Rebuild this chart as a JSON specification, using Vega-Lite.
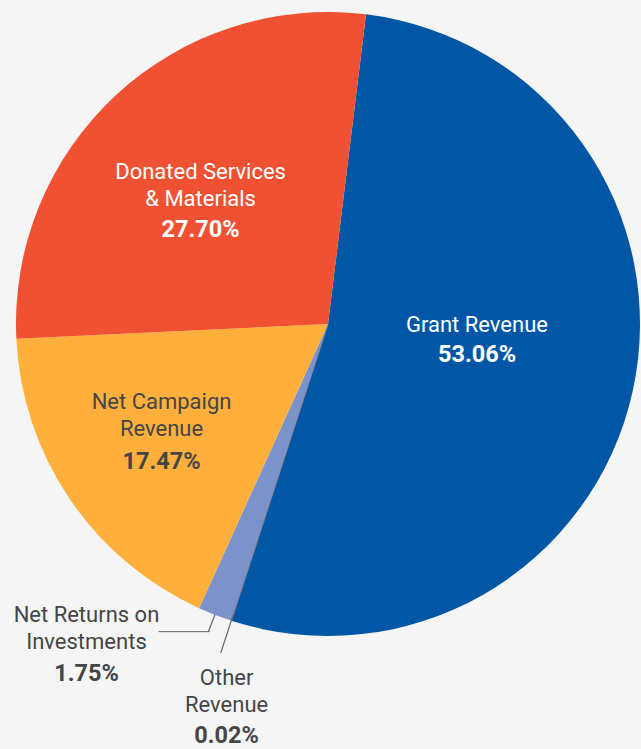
{
  "$schema": "https://vega.github.io/schema/vega-lite/v6.json",
  "width": 626,
  "height": 648,
  "autosize": {"type": "none"},
  "padding": {"left": 15, "top": 0, "right": 0, "bottom": 101},
  "background": "#f5f5f5",
  "config": {"view": {"stroke": null}, "text": {"font": "Roboto"}},
  "data": {
    "values": [
      {"cat": "Grant Revenue", "name": "Grant Revenue", "share": 0.5306, "rank": 1},
      {"cat": "Other Revenue", "name": "Other\nRevenue", "share": 0.0002, "rank": 2},
      {"cat": "Net Returns on Investments", "name": "Net Returns on\nInvestments", "share": 0.0175, "rank": 3},
      {"cat": "Net Campaign Revenue", "name": "Net Campaign\nRevenue", "share": 0.1747, "rank": 4},
      {"cat": "Donated Services & Materials", "name": "Donated Services\n& Materials", "share": 0.2770, "rank": 5}
    ]
  },
  "encoding": {
    "theta": {"field": "share", "type": "quantitative", "stack": true, "scale": {"range": [0.1222, 6.4054]}},
    "order": {"field": "rank", "type": "quantitative"}
  },
  "layer": [
    {
      "mark": {"type": "arc", "radius": 312, "stroke": "#7a7a7a"},
      "encoding": {
        "color": {
          "field": "cat", "type": "nominal", "legend": null,
          "scale": {
            "domain": ["Grant Revenue", "Other Revenue", "Net Returns on Investments", "Net Campaign Revenue", "Donated Services & Materials"],
            "range": ["#0157a6", "#7a7a7a", "#7b92cb", "#ffb03c", "#f05133"]
          }
        },
        "strokeWidth": {"condition": {"test": "datum.cat === 'Other Revenue'", "value": 1}, "value": 0}
      }
    },
    {
      "mark": {"type": "arc", "innerRadius": 312, "outerRadius": 330, "padAngle": 1, "fill": "transparent", "stroke": "#666666", "strokeWidth": 1.2},
      "encoding": {
        "strokeOpacity": {"condition": {"test": "datum.cat === 'Net Returns on Investments'", "value": 1}, "value": 0}
      }
    },
    {
      "mark": {"type": "arc", "innerRadius": 306, "outerRadius": 346, "padAngle": 1, "fill": "transparent", "stroke": "#666666", "strokeWidth": 1.2},
      "encoding": {
        "strokeOpacity": {"condition": {"test": "datum.cat === 'Other Revenue'", "value": 1}, "value": 0}
      }
    },
    {
      "mark": {"type": "text", "radius": 330, "align": "right", "baseline": "middle", "font": "DejaVu Sans Mono", "fontSize": 12, "color": "#666666", "dx": 1, "dy": 0},
      "encoding": {
        "text": {"condition": {"test": "datum.cat === 'Net Returns on Investments'", "value": "───────"}, "value": ""}
      }
    },
    {
      "mark": {"type": "text", "radius": 152.6, "align": "center", "baseline": "alphabetic", "fontSize": 22, "color": "#ffffff", "dy": -25.3, "lineBreak": "\n", "lineHeight": 27},
      "encoding": {"text": {"condition": {"test": "datum.cat === 'Grant Revenue'", "field": "name"}, "value": ""}}
    },
    {
      "mark": {"type": "text", "radius": 152.6, "align": "center", "baseline": "alphabetic", "fontSize": 23.5, "fontWeight": "bold", "color": "#ffffff", "dy": 5.3},
      "encoding": {"text": {"condition": {"test": "datum.cat === 'Grant Revenue'", "field": "share", "format": ".2%"}, "value": ""}}
    },
    {
      "mark": {"type": "text", "radius": 187.3, "align": "center", "baseline": "alphabetic", "fontSize": 22, "color": "#ffffff", "dy": -7.8, "lineBreak": "\n", "lineHeight": 27},
      "encoding": {"text": {"condition": {"test": "datum.cat === 'Donated Services & Materials'", "field": "name"}, "value": ""}}
    },
    {
      "mark": {"type": "text", "radius": 187.3, "align": "center", "baseline": "alphabetic", "fontSize": 23.5, "fontWeight": "bold", "color": "#ffffff", "dy": 50.2},
      "encoding": {"text": {"condition": {"test": "datum.cat === 'Donated Services & Materials'", "field": "share", "format": ".2%"}, "value": ""}}
    },
    {
      "mark": {"type": "text", "radius": 201.2, "align": "center", "baseline": "alphabetic", "fontSize": 22, "color": "#454545", "dy": -27.7, "lineBreak": "\n", "lineHeight": 27},
      "encoding": {"text": {"condition": {"test": "datum.cat === 'Net Campaign Revenue'", "field": "name"}, "value": ""}}
    },
    {
      "mark": {"type": "text", "radius": 201.2, "align": "center", "baseline": "alphabetic", "fontSize": 23.5, "fontWeight": "bold", "color": "#454545", "dy": 32.3},
      "encoding": {"text": {"condition": {"test": "datum.cat === 'Net Campaign Revenue'", "field": "share", "format": ".2%"}, "value": ""}}
    },
    {
      "mark": {"type": "text", "radius": 312, "align": "center", "baseline": "alphabetic", "fontSize": 22, "color": "#454545", "dx": -128.5, "dy": 6.9, "lineBreak": "\n", "lineHeight": 27},
      "encoding": {"text": {"condition": {"test": "datum.cat === 'Net Returns on Investments'", "field": "name"}, "value": ""}}
    },
    {
      "mark": {"type": "text", "radius": 312, "align": "center", "baseline": "alphabetic", "fontSize": 23.5, "fontWeight": "bold", "color": "#454545", "dx": -128.5, "dy": 66.2},
      "encoding": {"text": {"condition": {"test": "datum.cat === 'Net Returns on Investments'", "field": "share", "format": ".2%"}, "value": ""}}
    },
    {
      "mark": {"type": "text", "radius": 312, "align": "center", "baseline": "alphabetic", "fontSize": 22, "color": "#454545", "dx": -4.7, "dy": 64.4, "lineBreak": "\n", "lineHeight": 27},
      "encoding": {"text": {"condition": {"test": "datum.cat === 'Other Revenue'", "field": "name"}, "value": ""}}
    },
    {
      "mark": {"type": "text", "radius": 312, "align": "center", "baseline": "alphabetic", "fontSize": 23.5, "fontWeight": "bold", "color": "#454545", "dx": -4.7, "dy": 122.2},
      "encoding": {"text": {"condition": {"test": "datum.cat === 'Other Revenue'", "field": "share", "format": ".2%"}, "value": ""}}
    }
  ]
}
